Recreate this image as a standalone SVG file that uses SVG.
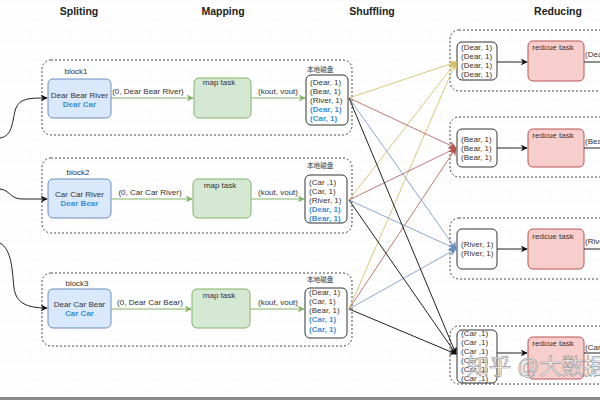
<svg xmlns="http://www.w3.org/2000/svg" width="600" height="400" viewBox="0 0 600 400">
<style>
text{font-family:"Liberation Sans","Noto Sans CJK SC",Arial,sans-serif;font-size:8px;fill:#333}
.title{font-size:10.5px;font-weight:bold;fill:#222;text-anchor:middle}
.c{text-anchor:middle}
.blue{fill:#3b8fd6;font-weight:bold}
.cjk{font-size:6.6px}
.cont{fill:none;stroke:#444;stroke-width:1;stroke-dasharray:2 2}
.in{fill:#dae8fc;stroke:#6c8ebf;stroke-width:1}
.map{fill:#d5e8d4;stroke:#82b366;stroke-width:1}
.disk{fill:#fff;stroke:#333;stroke-width:1}
.red{fill:#f8cecc;stroke:#b85450;stroke-width:1}
.g{stroke:#82b366;stroke-width:1;fill:none}
.k{stroke:#222;stroke-width:1;fill:none}
.y{stroke:#d6c266;stroke-width:0.9;fill:none}
.r{stroke:#b86a66;stroke-width:0.9;fill:none}
.b{stroke:#7f9dc6;stroke-width:0.9;fill:none}
.wm{font-size:22px;fill:#fff;fill-opacity:0.85;stroke:#999;stroke-width:0.7}
</style>
<defs>
<pattern id="grid" width="10" height="10" patternUnits="userSpaceOnUse">
<path d="M10 0H0V10" fill="none" stroke="#ececec" stroke-width="0.6"/>
</pattern>
<marker id="ag" viewBox="0 0 10 10" refX="9" refY="5" markerWidth="7" markerHeight="7" markerUnits="userSpaceOnUse" orient="auto"><path d="M0,0L10,5L0,10L3,5z" fill="#82b366"/></marker>
<marker id="ak" viewBox="0 0 10 10" refX="9" refY="5" markerWidth="7" markerHeight="7" markerUnits="userSpaceOnUse" orient="auto"><path d="M0,0L10,5L0,10L3,5z" fill="#111"/></marker>
<marker id="ay" viewBox="0 0 10 10" refX="9" refY="5" markerWidth="8" markerHeight="8" markerUnits="userSpaceOnUse" orient="auto"><path d="M0,0L10,5L0,10L3,5z" fill="#d6c266"/></marker>
<marker id="ar" viewBox="0 0 10 10" refX="9" refY="5" markerWidth="8" markerHeight="8" markerUnits="userSpaceOnUse" orient="auto"><path d="M0,0L10,5L0,10L3,5z" fill="#b85450"/></marker>
<marker id="ab" viewBox="0 0 10 10" refX="9" refY="5" markerWidth="8" markerHeight="8" markerUnits="userSpaceOnUse" orient="auto"><path d="M0,0L10,5L0,10L3,5z" fill="#6c8ebf"/></marker>
</defs>
<rect width="600" height="400" fill="#fff"/>
<rect width="600" height="400" fill="url(#grid)"/>

<g id="titles">
<text class="title" x="79" y="15">Spliting</text>
<text class="title" x="223" y="15">Mapping</text>
<text class="title" x="372" y="15">Shuffling</text>
<text class="title" x="558" y="15">Reducing</text>
</g>

<g id="block1">
<rect class="cont" x="42" y="60" width="310" height="75" rx="9"/>
<text class="c" x="76" y="74">block1</text>
</g>
<g id="block2">
<rect class="cont" x="42" y="158" width="310" height="75" rx="9"/>
<text class="c" x="78" y="175">block2</text>
</g>
<g id="block3">
<rect class="cont" x="42" y="273" width="310" height="73" rx="9"/>
<text class="c" x="77" y="286">block3</text>
</g>

<g id="split1">
<rect class="in" x="48" y="79" width="63" height="39" rx="5"/>
<text class="c" x="79.5" y="97.5">Dear Bear River</text>
<text class="c blue" x="79.5" y="106.5">Dear Car</text>
</g>
<g id="split2">
<rect class="in" x="48" y="179" width="63" height="39" rx="5"/>
<text class="c" x="79.5" y="197">Car Car River</text>
<text class="c blue" x="79.5" y="206">Dear Bear</text>
</g>
<g id="split3">
<rect class="in" x="48" y="289" width="63" height="39" rx="5"/>
<text class="c" x="79.5" y="307">Dear Car Bear</text>
<text class="c blue" x="79.5" y="316">Car Car</text>
</g>

<g id="map1">
<rect class="map" x="194" y="78" width="57" height="40" rx="5"/>
<text class="c" x="219" y="85">map task</text>
</g>
<g id="map2">
<rect class="map" x="193" y="179" width="58" height="39" rx="5"/>
<text class="c" x="220" y="188">map task</text>
</g>
<g id="map3">
<rect class="map" x="192" y="289" width="58" height="39" rx="5"/>
<text class="c" x="219" y="298">map task</text>
</g>

<g id="disk1">
<text class="cjk" x="307" y="72">本地磁盘</text>
<rect class="disk" x="306" y="75" width="42" height="50" rx="5"/>
<text x="310" y="85">(Dear, 1)</text>
<text x="310" y="94">(Bear, 1)</text>
<text x="310" y="103">(River, 1)</text>
<text class="blue" x="310" y="112">(Dear, 1)</text>
<text class="blue" x="310" y="121">(Car, 1)</text>
</g>
<g id="disk2">
<text class="cjk" x="307" y="168">本地磁盘</text>
<rect class="disk" x="305" y="175" width="42" height="48" rx="5"/>
<text x="309" y="185">(Car ,1)</text>
<text x="309" y="194">(Car, 1)</text>
<text x="309" y="203">(River, 1)</text>
<text class="blue" x="309" y="212">(Dear, 1)</text>
<text class="blue" x="309" y="221">(Bear, 1)</text>
</g>
<g id="disk3">
<text class="cjk" x="307" y="282">本地磁盘</text>
<rect class="disk" x="305" y="288" width="42" height="50" rx="5"/>
<text x="309" y="295">(Dear, 1)</text>
<text x="309" y="304">(Car, 1)</text>
<text x="309" y="313">(Bear, 1)</text>
<text class="blue" x="309" y="322">(Car, 1)</text>
<text class="blue" x="309" y="332">(Car, 1)</text>
</g>

<g id="reduce1">
<rect class="cont" x="450" y="30" width="170" height="61" rx="9"/>
<rect class="disk" x="457" y="42" width="40" height="38" rx="5"/>
<text x="461" y="50">(Dear, 1)</text>
<text x="461" y="59">(Dear, 1)</text>
<text x="461" y="68">(Dear, 1)</text>
<text x="461" y="77">(Dear, 1)</text>
<rect class="red" x="528" y="41" width="56" height="40" rx="5"/>
<text class="c" x="553" y="50">redcue task</text>
<text x="585" y="57">(Dear</text>
</g>
<g id="reduce2">
<rect class="cont" x="450" y="117" width="170" height="60" rx="9"/>
<rect class="disk" x="457" y="129" width="40" height="38" rx="5"/>
<text x="461" y="142">(Bear, 1)</text>
<text x="461" y="151">(Bear, 1)</text>
<text x="461" y="160">(Bear, 1)</text>
<rect class="red" x="528" y="129" width="56" height="38" rx="5"/>
<text class="c" x="553" y="138">redcue task</text>
<text x="585" y="144">(Bear</text>
</g>
<g id="reduce3">
<rect class="cont" x="450" y="218" width="170" height="61" rx="9"/>
<rect class="disk" x="457" y="229" width="40" height="40" rx="5"/>
<text x="461" y="247">(River, 1)</text>
<text x="461" y="256">(River, 1)</text>
<rect class="red" x="528" y="229" width="56" height="40" rx="5"/>
<text class="c" x="553" y="239">redcue task</text>
<text x="585" y="244">(River</text>
</g>
<g id="reduce4">
<rect class="cont" x="450" y="326" width="170" height="58" rx="9"/>
<rect class="disk" x="457" y="330" width="40" height="53" rx="5"/>
<text x="461" y="336">(Car ,1)</text>
<text x="461" y="345">(Car ,1)</text>
<text x="461" y="354">(Car ,1)</text>
<text x="461" y="363">(Car ,1)</text>
<text x="461" y="372">(Car ,1)</text>
<text x="461" y="381">(Car ,1)</text>
<rect class="red" x="528" y="337" width="56" height="42" rx="5"/>
<text class="c" x="553" y="346">redcue task</text>
<text x="585" y="350">(Car</text>
</g>

<g id="connectors">
<path class="k" d="M0,138 C14,136 12,118 16,108 C20,98 30,98 47,98" marker-end="url(#ak)"/>
<path class="k" d="M0,189 C10,190 10,199 22,199 L47,199" marker-end="url(#ak)"/>
<path class="k" d="M0,243 C12,250 12,270 14,288 C16,302 25,308 47,308" marker-end="url(#ak)"/>

<line class="g" x1="111" y1="98" x2="193" y2="98" marker-end="url(#ag)"/>
<line class="g" x1="251" y1="98" x2="305" y2="98" marker-end="url(#ag)"/>
<line class="g" x1="111" y1="199" x2="192" y2="199" marker-end="url(#ag)"/>
<line class="g" x1="251" y1="199" x2="304" y2="199" marker-end="url(#ag)"/>
<line class="g" x1="111" y1="309" x2="191" y2="309" marker-end="url(#ag)"/>
<line class="g" x1="250" y1="309" x2="304" y2="309" marker-end="url(#ag)"/>

<line class="y" x1="349" y1="98" x2="456" y2="62" marker-end="url(#ay)"/>
<line class="y" x1="349" y1="200" x2="456" y2="62" marker-end="url(#ay)"/>
<line class="y" x1="349" y1="309" x2="456" y2="62" marker-end="url(#ay)"/>
<line class="r" x1="349" y1="98" x2="456" y2="148" marker-end="url(#ar)"/>
<line class="r" x1="349" y1="200" x2="456" y2="148" marker-end="url(#ar)"/>
<line class="r" x1="349" y1="309" x2="456" y2="148" marker-end="url(#ar)"/>
<line class="b" x1="349" y1="98" x2="456" y2="249" marker-end="url(#ab)"/>
<line class="b" x1="349" y1="200" x2="456" y2="249" marker-end="url(#ab)"/>
<line class="b" x1="349" y1="309" x2="456" y2="249" marker-end="url(#ab)"/>
<line class="k" x1="349" y1="98" x2="456" y2="354" marker-end="url(#ak)"/>
<line class="k" x1="349" y1="200" x2="456" y2="354" marker-end="url(#ak)"/>
<line class="k" x1="349" y1="309" x2="456" y2="354" marker-end="url(#ak)"/>

<line class="k" x1="497" y1="62" x2="527" y2="62" marker-end="url(#ak)"/>
<line class="k" x1="497" y1="148" x2="527" y2="148" marker-end="url(#ak)"/>
<line class="k" x1="497" y1="249" x2="527" y2="249" marker-end="url(#ak)"/>
<line class="k" x1="497" y1="353" x2="527" y2="353" marker-end="url(#ak)"/>
<line class="k" x1="584" y1="62" x2="600" y2="62"/>
<line class="k" x1="584" y1="148" x2="600" y2="148"/>
<line class="k" x1="584" y1="249" x2="600" y2="249"/>
<line class="k" x1="584" y1="353" x2="600" y2="353"/>
</g>

<g id="labels">
<text class="c" x="148" y="94">(0, Dear Bear River)</text>
<text class="c" x="278" y="94">(kout, vout)</text>
<text class="c" x="150" y="195">(0, Car Car River)</text>
<text class="c" x="278" y="195">(kout, vout)</text>
<text class="c" x="150" y="305">(0, Dear Car Bear)</text>
<text class="c" x="278" y="305">(kout, vout)</text>
</g>

<text class="wm" x="467" y="374">知乎 @大数据</text>
<rect x="0" y="397" width="600" height="3" fill="#8a8a8a"/>
</svg>
